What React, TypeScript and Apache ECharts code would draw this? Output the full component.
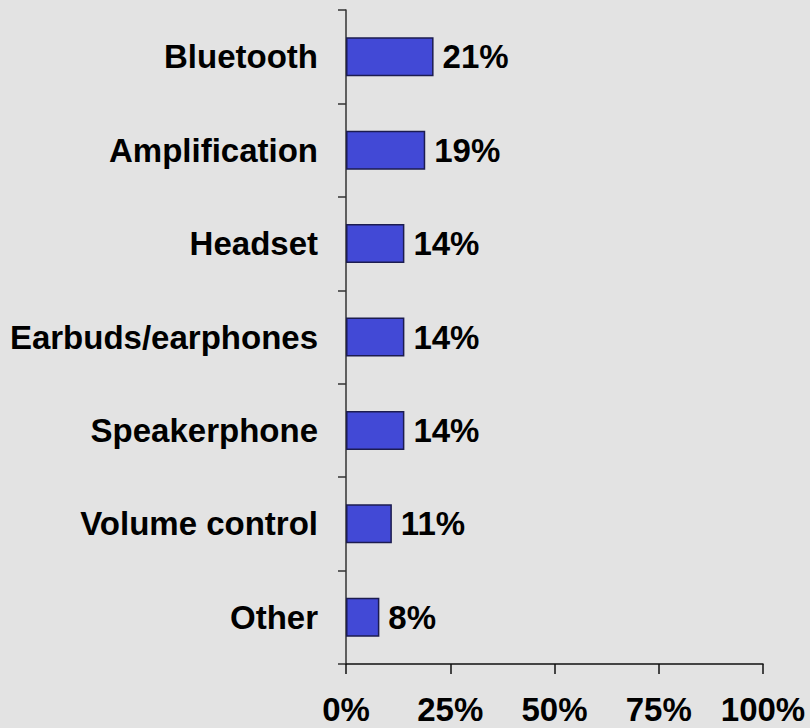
import React, { useEffect, useRef } from "react";
import * as echarts from "echarts";

const categories = [
  "Bluetooth",
  "Amplification",
  "Headset",
  "Earbuds/earphones",
  "Speakerphone",
  "Volume control",
  "Other",
];
const values = [21, 19, 14, 14, 14, 11, 8];
const xTicks = { min: 0, max: 100, interval: 25 };

const FONT = "'Liberation Sans', Arial, Helvetica, sans-serif";

export default function App() {
  const ref = useRef<HTMLDivElement>(null);
  useEffect(() => {
    if (!ref.current) return;
    const chart = echarts.init(ref.current, null, { renderer: "svg" });
    chart.setOption({
      animation: false,
      backgroundColor: "#e3e3e3",
      grid: { left: 346, right: 47, top: 10, bottom: 64, containLabel: false },
      xAxis: {
        type: "value",
        min: xTicks.min,
        max: xTicks.max,
        interval: xTicks.interval,
        splitLine: { show: false },
        axisLine: { show: true, lineStyle: { color: "#111", width: 1.5 } },
        axisTick: { show: true, length: 10, lineStyle: { color: "#111", width: 1.5 } },
        axisLabel: {
          formatter: "{value}%",
          color: "#000",
          fontFamily: FONT,
          fontWeight: "bold",
          fontSize: 33,
          lineHeight: 33,
          margin: 29,
        },
      },
      yAxis: {
        type: "category",
        data: categories,
        inverse: true,
        axisLine: { show: true, lineStyle: { color: "#333", width: 1.5 } },
        axisTick: { show: true, length: 8, lineStyle: { color: "#333", width: 1.5 } },
        axisLabel: {
          color: "#000",
          fontFamily: FONT,
          fontWeight: "bold",
          fontSize: 33,
          margin: 28,
        },
      },
      series: [
        {
          type: "bar",
          data: values,
          barWidth: 39,
          itemStyle: { color: "#4249d6", borderColor: "#1c1c50", borderWidth: 1.5 },
          label: {
            show: true,
            position: "right",
            distance: 9,
            formatter: "{c}%",
            color: "#000",
            fontFamily: FONT,
            fontWeight: "bold",
            fontSize: 33,
          },
        },
      ],
    });
    return () => chart.dispose();
  }, []);
  return (
    <div
      ref={ref}
      style={{ position: "fixed", left: 0, top: 0, width: 810, height: 728 }}
    />
  );
}
